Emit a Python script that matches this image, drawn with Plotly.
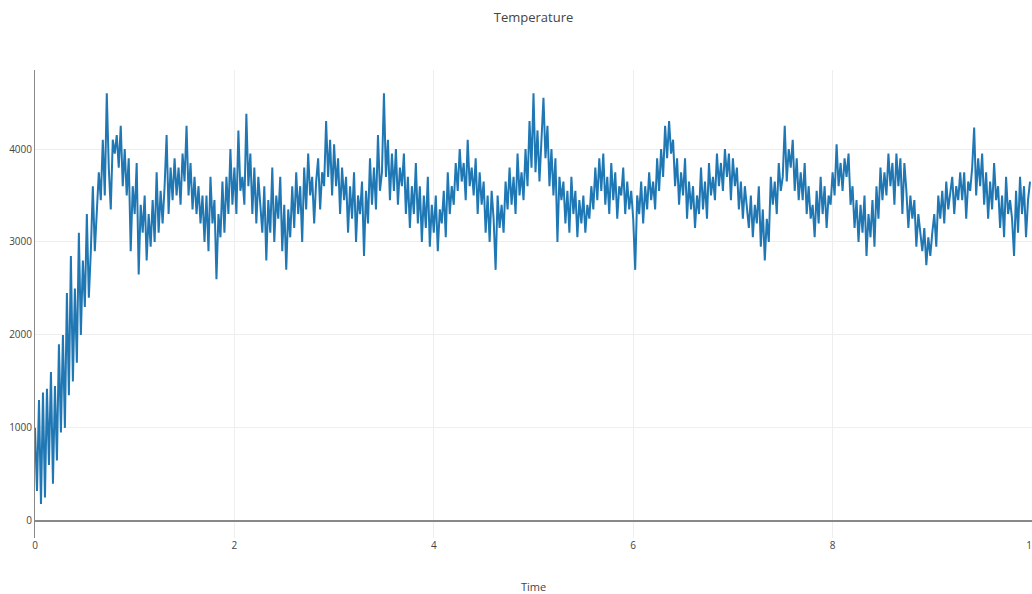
import plotly.graph_objects as go

# Sampling step of the time axis
time_step = 0.02

# Temperature readings, one row per 0.5 time units (25 samples each)
temperature = [
    1000, 320, 1300, 180, 1380, 250, 1420, 600, 1600, 400,
    1450, 650, 1900, 950, 2000, 1000, 2450, 1350, 2850, 1500,
    2500, 1700, 3100, 2000, 2800,
    2300, 3300, 2400, 2900, 3600, 2900, 3300, 3750, 3450, 4100,
    3500, 4600, 3800, 3350, 4100, 3950, 4150, 3800, 4250, 3600,
    4000, 3500, 3900, 2900, 3600,
    3300, 3850, 2650, 3400, 3100, 3500, 2800, 3300, 2950, 3450,
    3000, 3750, 3100, 3550, 3200, 3600, 4150, 3300, 3800, 3450,
    3900, 3500, 3800, 3400, 3950,
    3650, 4250, 3500, 3850, 3350, 3700, 3300, 3600, 3200, 3500,
    3000, 3500, 2900, 3700, 3200, 3450, 2600, 3300, 3050, 3650,
    3100, 3700, 3300, 4000, 3400,
    3800, 3300, 4200, 3550, 3700, 3400, 4380, 3600, 3950, 3300,
    3800, 3200, 3700, 3400, 3100, 3600, 2800, 3450, 3100, 3800,
    3000, 3500, 3250, 3700, 2900,
    3400, 2700, 3350, 3050, 3600, 3150, 3750, 3300, 3600, 3000,
    3800, 3350, 3950, 3500, 3700, 3200, 3650, 3900, 3350, 3750,
    3600, 4300, 3700, 4100, 3500,
    4050, 3600, 3900, 3300, 3800, 3450, 3700, 3100, 3600, 3250,
    3750, 3000, 3500, 3300, 3650, 2850, 3550, 3200, 3900, 3400,
    3800, 3350, 4150, 3550, 3750,
    4600, 3700, 4100, 3450, 3950, 3550, 4000, 3400, 3800, 3600,
    3950, 3300, 3700, 3150, 3600, 3300, 3850, 3200, 3600, 3000,
    3500, 3150, 3700, 2950, 3400,
    3100, 3500, 2900, 3350, 3200, 3550, 3050, 3750, 3300, 3600,
    3400, 3850, 3550, 4000, 3650, 3850, 3450, 4100, 3600, 3800,
    3500, 3900, 3300, 3750, 3400,
    3650, 3100, 3500, 3000, 3550, 3250, 2700, 3500, 3150, 3400,
    3100, 3650, 3350, 3800, 3400, 3700, 3300, 3950, 3500, 3750,
    3450, 4000, 3600, 4300, 3800,
    4600, 3750, 4200, 3650, 4100, 4550, 3900, 4250, 3600, 4000,
    3500, 3900, 3000, 3700, 3450, 3650, 3200, 3550, 3100, 3700,
    3300, 3550, 3050, 3450, 3200,
    3500, 3100, 3400, 3250, 3600, 3350, 3800, 3450, 3900, 3550,
    3950, 3400, 3700, 3300, 3850, 3450, 3750, 3250, 3600, 3500,
    3800, 3300, 3650, 3350, 3550,
    3250, 2700, 3500, 3300, 3650, 3200, 3600, 3350, 3750, 3450,
    3650, 3350, 3900, 3550, 4000, 3700, 4250, 3900, 4300, 3950,
    4100, 3600, 3900, 3400, 3750,
    3500, 3900, 3250, 3650, 3350, 3600, 3150, 3500, 3300, 3800,
    3350, 3650, 3250, 3850, 3500, 3700, 3450, 3950, 3600, 3850,
    3550, 4000, 3700, 3950, 3450,
    3900, 3600, 3800, 3350, 3650, 3250, 3600, 3400, 3150, 3500,
    3050, 3400, 3200, 3600, 2950, 3350, 2800, 3250, 3000, 3700,
    3400, 3650, 3300, 3850, 3550,
    3700, 4250, 3650, 4000, 3800, 4100, 3550, 3900, 3450, 3750,
    3450, 3850, 3300, 3600, 3250, 3400, 3050, 3550, 3200, 3700,
    3300, 3600, 3150, 3500, 3400,
    3750, 3500, 4050, 3600, 3850, 3550, 3900, 3700, 3950, 3400,
    3600, 3150, 3450, 3000, 3400, 3100, 3500, 2850, 3300, 3050,
    3450, 2950, 3600, 3250, 3800,
    3450, 3750, 3500, 3950, 3600, 3850, 3400, 3950, 3600, 3900,
    3300, 3850, 3550, 3150, 3500, 3250, 3450, 2950, 3300, 3100,
    2900, 3150, 2750, 3050, 2850,
    3100, 3300, 2950, 3500, 3250, 3550, 3200, 3650, 3350, 3500,
    3700, 3300, 3600, 3450, 3750, 3450, 3750, 3250, 3650, 3550,
    3800, 4230, 3500, 3900, 3600,
    3950, 3400, 3750, 3250, 3650, 3350, 3850, 3450, 3600, 3150,
    3500, 3050, 3700, 3300, 3450, 3250, 2850, 3550, 3100, 3700,
    3300, 3600, 3050, 3450, 3650,
]

time = [round(i * time_step, 4) for i in range(len(temperature))]

x_ticks = [0, 2, 4, 6, 8, 10]
y_ticks = [0, 1000, 2000, 3000, 4000]

fig = go.Figure(
    go.Scatter(
        x=time,
        y=temperature,
        mode="lines",
        line=dict(color="#1f77b4", width=2),
        showlegend=False,
    )
)

font_family = "Open Sans, Noto Sans, sans-serif"

fig.update_layout(
    width=1032,
    height=594,
    margin=dict(l=35, r=0, t=70, b=56),
    paper_bgcolor="white",
    plot_bgcolor="white",
    font=dict(family=font_family, color="#444", size=10),
    title=dict(
        text="Temperature",
        x=0.5,
        xref="paper",
        xanchor="center",
        y=0.97,
        yref="container",
        yanchor="middle",
        font=dict(family=font_family, size=13, color="#444"),
    ),
)

fig.update_xaxes(
    range=[0, 10],
    tickvals=x_ticks,
    showgrid=True,
    gridcolor="#eee",
    gridwidth=1,
    zeroline=False,
    showline=False,
    ticks="",
    automargin=False,
    ticklabeloverflow="allow",
    tickfont=dict(size=10, color="#444"),
    title=dict(text="Time", font=dict(size=11, color="#444"), standoff=33),
)

fig.update_yaxes(
    range=[-185, 4850],
    tickvals=y_ticks,
    showgrid=True,
    gridcolor="#eee",
    gridwidth=1,
    zeroline=True,
    zerolinecolor="#888",
    zerolinewidth=2,
    showline=True,
    linecolor="#888",
    linewidth=1,
    ticks="",
    automargin=False,
    tickfont=dict(size=10, color="#444"),
)

fig.write_html(
    "out.html",
    config={"displayModeBar": False},
    post_script="document.body.style.margin='0';document.body.style.overflow='hidden';",
)
